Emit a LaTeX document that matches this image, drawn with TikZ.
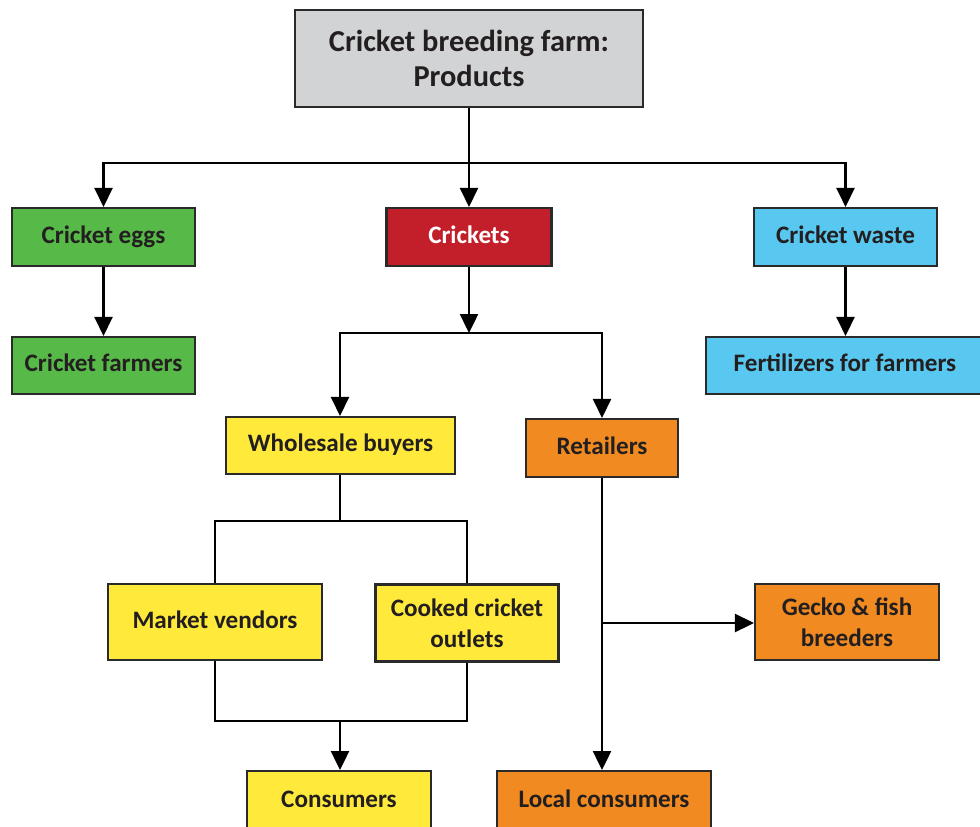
\documentclass[tikz,border=0pt]{standalone}
\usepackage{fontspec}
\setmainfont{Carlito}
\usetikzlibrary{arrows.meta}
\definecolor{boxline}{HTML}{2B2A2A}
\definecolor{textdark}{HTML}{231F20}
\definecolor{topgray}{HTML}{D1D3D4}
\definecolor{eggsgreen}{HTML}{57B947}
\definecolor{cricketred}{HTML}{C21F2A}
\definecolor{wasteblue}{HTML}{59C8F0}
\definecolor{buyeryellow}{HTML}{FFE93B}
\definecolor{retailorange}{HTML}{F08A21}
\tikzset{
  box/.style={draw=boxline,line width=1.2pt,inner sep=0pt,align=center,text=textdark,
    font=\bfseries\fontsize{14.3}{17.6}\selectfont,minimum height=1.16cm},
  arr/.style={line width=1.4pt,-{Triangle[length=0.38cm,width=0.36cm]}},
  link/.style={line width=1.4pt}
}
\begin{document}
\begin{tikzpicture}[x=0.02cm,y=-0.02cm]
\useasboundingbox (0,0) rectangle (980,827);
%top row
\node[box,fill=topgray,minimum width=6.96cm,minimum height=1.94cm,
  font=\bfseries\fontsize{17.3}{19.9}\selectfont] (farm) at (469,58.5) {Cricket breeding farm:\\Products};
\node[box,fill=eggsgreen,minimum width=3.66cm] (eggs) at (103.5,237) {Cricket eggs\strut};
\node[box,fill=cricketred,minimum width=3.3cm,text=white] (crickets) at (469,237) {Crickets\strut};
\node[box,fill=wasteblue,minimum width=3.66cm] (waste) at (845.5,237) {Cricket waste\strut};
\node[box,fill=eggsgreen,minimum width=3.66cm,minimum height=1.14cm] (farmers) at (103.5,365.5) {Cricket farmers\strut};
\node[box,fill=wasteblue,minimum width=5.56cm,minimum height=1.14cm] (fertilizers) at (845,365.5) {Fertilizers for farmers\strut};
%middle
\node[box,fill=buyeryellow,minimum width=4.58cm,minimum height=1.14cm] (wholesale) at (340.5,445.5) {Wholesale buyers\strut};
\node[box,fill=retailorange,minimum width=3.04cm] (retailers) at (602,448) {Retailers\strut};
\node[box,fill=buyeryellow,minimum width=4.28cm,minimum height=1.52cm] (vendors) at (215,622) {Market vendors\strut};
\node[box,fill=buyeryellow,minimum width=3.66cm,minimum height=1.54cm] (outlets) at (467,623) {Cooked cricket\\outlets};
\node[box,fill=retailorange,minimum width=3.68cm,minimum height=1.52cm] (gecko) at (847,622) {Gecko \& fish\\breeders};
%bottom
\node[box,fill=buyeryellow,minimum width=3.68cm,minimum height=1.2cm,anchor=north] (consumers) at (339,770) {Consumers\strut};
\node[box,fill=retailorange,minimum width=4.28cm,minimum height=1.2cm,anchor=north] (localc) at (604,770) {Local consumers\strut};
%junctions
\coordinate (splitfarm) at (469,163);
\coordinate (splitcrickets) at (469,333);
\coordinate (splitwholesale) at (340,521);
\coordinate (joinconsumers) at (340,721);
\coordinate (splitretail) at (602,623);
%connectors
\draw[link] (farm.south) -- (splitfarm);
\draw[arr] (splitfarm) -| (eggs.north);
\draw[arr] (splitfarm) -- (crickets.north);
\draw[arr] (splitfarm) -| (waste.north);
\draw[arr] (eggs.south) -- (farmers.north);
\draw[arr] (waste.south) -- (waste.south |- fertilizers.north);
\draw[arr] (crickets.south) -- (splitcrickets);
\draw[arr] (splitcrickets) -| (wholesale.north -| splitwholesale);
\draw[arr] (splitcrickets) -| (retailers.north);
\draw[link] (wholesale.south -| splitwholesale) -- (splitwholesale);
\draw[link] (splitwholesale) -| (vendors.north);
\draw[link] (splitwholesale) -| (outlets.north);
\draw[link] (vendors.south) |- (joinconsumers) -| (outlets.south);
\draw[arr] (joinconsumers) -- (joinconsumers |- consumers.north);
\draw[arr] (retailers.south) -- (retailers.south |- localc.north);
\draw[arr] (splitretail) -- (splitretail -| gecko.west);
\end{tikzpicture}
\end{document}
